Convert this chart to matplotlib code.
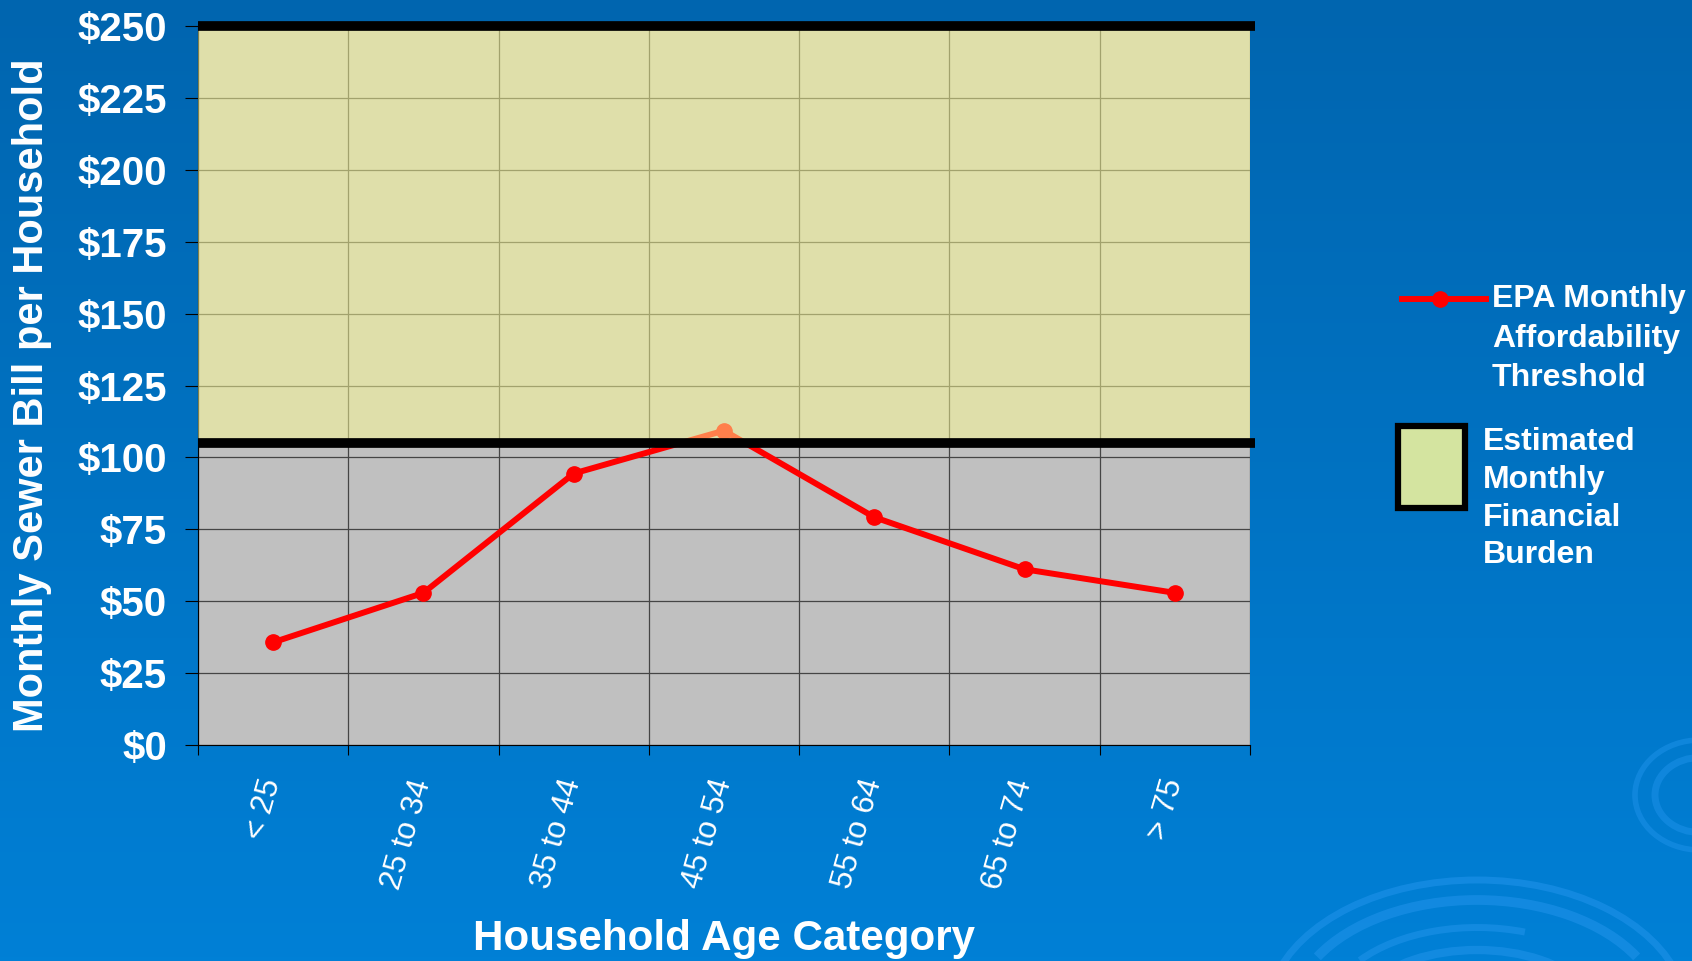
import numpy as np
import matplotlib.pyplot as plt
from matplotlib.lines import Line2D
from matplotlib.patches import Rectangle, Arc
from matplotlib.colors import LinearSegmentedColormap

categories = ["< 25", "25 to 34", "35 to 44", "45 to 54", "55 to 64", "65 to 74", "> 75"]
epa_threshold = [35.7, 52.9, 94.4, 109.3, 79.2, 61.1, 52.9]
burden_low = 105
burden_high = 250
yticks = [0, 25, 50, 75, 100, 125, 150, 175, 200, 225, 250]

plt.rcParams['font.family'] = ['Liberation Sans', 'DejaVu Sans']

W, H = 1692, 961
fig = plt.figure(figsize=(W / 100, H / 100), dpi=100)

# slide background: blue gradient with faint swirls
bg = fig.add_axes([0, 0, 1, 1], zorder=-10)
cmap = LinearSegmentedColormap.from_list("bg", ["#0065af", "#0080d6"])
bg.imshow(np.linspace(0, 1, 256).reshape(-1, 1), aspect="auto", cmap=cmap,
          extent=[0, W, H, 0])
bg.set_xlim(0, W)
bg.set_ylim(H, 0)
bg.axis("off")
for w, h, lw, t1, t2 in [(420, 270, 5, 190, 350), (370, 230, 7, 200, 340),
                         (300, 175, 5, 205, 300), (240, 130, 6, 195, 345)]:
    bg.add_patch(Arc((1477, 1015), w, h, theta1=t1, theta2=t2,
                     color="#1a8fe6", lw=lw, alpha=0.7))
for w, h, lw in [(130, 110, 4), (90, 75, 5)]:
    bg.add_patch(Arc((1700, 795), w, h, theta1=90, theta2=270,
                     color="#1a8fe6", lw=lw, alpha=0.6))

ax = fig.add_axes([198 / W, 1 - 745 / H, (1250 - 198) / W, (745 - 26) / H])
ax.set_facecolor("#c0c0c0")
ax.set_axisbelow(True)
x = np.arange(len(categories)) + 0.5

ax.plot(x, epa_threshold, color="#ff0000", lw=4.3, marker="o", ms=11, zorder=3)
ax.fill_between([0, len(categories)], burden_low, burden_high,
                color=(1, 1, 0.59), alpha=0.5, lw=0, zorder=4)
ax.hlines([burden_low, burden_high], 0, 7.03, colors="k", lw=7, zorder=5, clip_on=False)

ax.set_xlim(0, len(categories))
ax.set_ylim(0, 250)
ax.set_xticks(range(len(categories) + 1))
ax.set_xticklabels([])
# label anchors sit a little right of the category centre, like the original
ax.set_xticks(x + 0.09, minor=True)
ax.set_xticklabels(categories, minor=True, rotation=74, ha="right",
                   color="white", fontsize=22.5)
ax.tick_params(axis="x", which="minor", length=0, pad=22)
ax.tick_params(axis="x", which="major", length=7, color="k")
ax.set_yticks(yticks)
ax.set_yticklabels([f"${v}" for v in yticks], color="white", fontsize=29,
                   fontweight="bold")
ax.tick_params(axis="y", length=9.4, pad=13, color="k")
ax.grid(True, which="major", color="#454545", lw=0.9)
for s in ["top", "right"]:
    ax.spines[s].set_visible(False)
for s in ["left", "bottom"]:
    ax.spines[s].set_color("k")

fig.text(32 / W, 1 - 395 / H, "Monthly Sewer Bill per Household", rotation=90,
         ha="center", va="center", fontsize=30, fontweight="bold", color="white")
fig.text(724 / W, 1 - 939 / H, "Household Age Category", ha="center", va="center",
         fontsize=30.3, fontweight="bold", color="white")

# legend
fig.add_artist(Line2D([1402 / W, 1486 / W], [1 - 299 / H] * 2, color="#ff0000", lw=4.3))
fig.add_artist(Line2D([1440 / W], [1 - 299 / H], color="#ff0000", marker="o", ms=11))
fig.text(1492 / W, 1 - 284 / H, "EPA Monthly\nAffordability\nThreshold", ha="left",
         va="top", fontsize=23, fontweight="bold", color="white", linespacing=1.42)
fig.add_artist(Rectangle((1398 / W, 1 - 508 / H), 67 / W, 82 / H, transform=fig.transFigure,
                         fc="#d4e4a0", ec="k", lw=4.5))
fig.text(1483 / W, 1 - 427 / H, "Estimated\nMonthly\nFinancial\nBurden", ha="left",
         va="top", fontsize=23, fontweight="bold", color="white", linespacing=1.34)

fig.savefig("out.png", dpi=100)
